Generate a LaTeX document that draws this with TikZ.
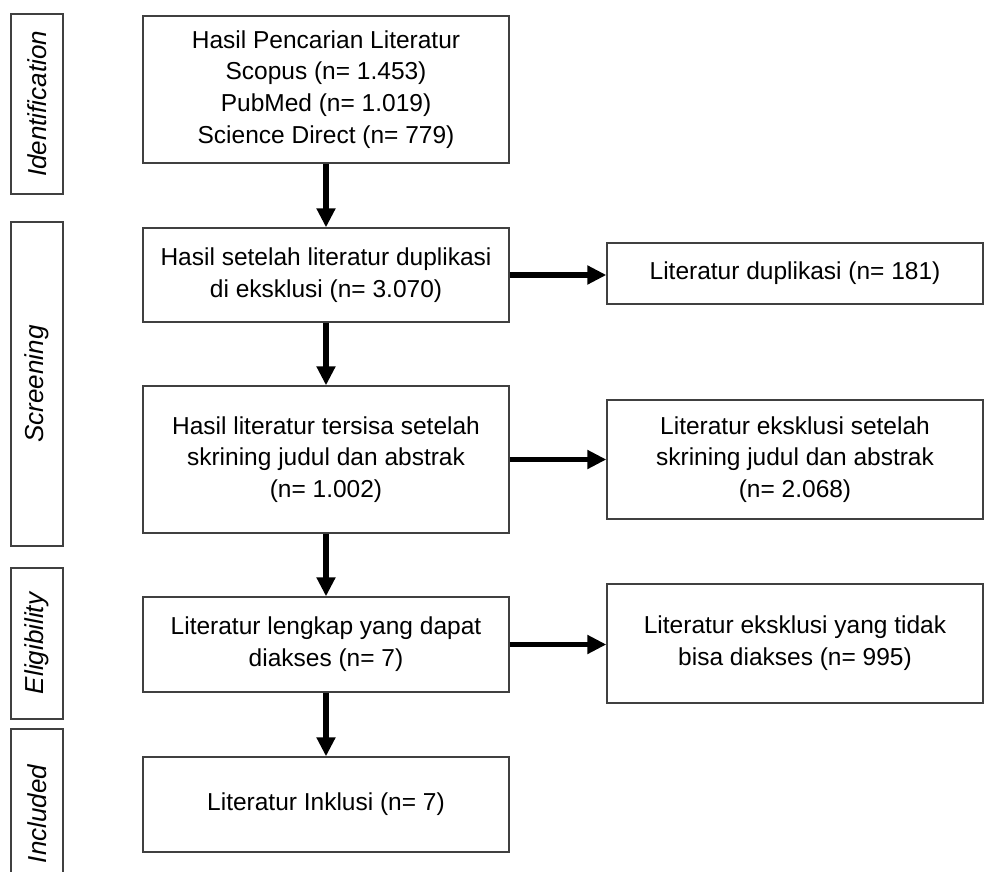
\documentclass[tikz,border=0pt]{standalone}
\usepackage{fontspec}
\setmainfont{Liberation Sans}
\usetikzlibrary{arrows.meta}

\begin{document}
\begin{tikzpicture}[x=1pt,y=-1pt]
    \tikzstyle{box}=[draw=black!75, line width=1.3pt, align=center, inner sep=0pt,
        font=\fontsize{24.5}{31.8}\selectfont]
    \tikzstyle{stage}=[draw=black!75, line width=1.3pt, rotate=90, inner sep=0pt,
        minimum height=52pt, font=\itshape\fontsize{26}{30}\selectfont]
    \tikzstyle{flow}=[line width=5.5pt, -{Triangle[length=19pt,width=18pt]}]
    \useasboundingbox (0,0) rectangle (985,872);

    % stages on the left
    \node[stage, minimum width=180pt] (ident) at (37,104) {Identification};
    \node[stage, minimum width=324pt] (screen) at (37,384) {Screening};
    \node[stage, minimum width=151pt] (elig) at (37,643.5) {Eligibility};
    \node[stage, minimum width=170pt] (incl) at (37,814) {Included};

    % main column
    \node[box, minimum width=366pt, minimum height=147pt] (search) at (326,89.5)
        {Hasil Pencarian Literatur\\Scopus (n= 1.453)\\PubMed (n= 1.019)\\Science Direct (n= 779)};
    \node[box, minimum width=366pt, minimum height=94pt] (dedup) at (326,275)
        {Hasil setelah literatur duplikasi\\di eksklusi (n= 3.070)};
    \node[box, minimum width=366pt, minimum height=147pt] (screened) at (326,459.5)
        {Hasil literatur tersisa setelah\\skrining judul dan abstrak\\(n= 1.002)};
    \node[box, minimum width=366pt, minimum height=95pt] (fulltext) at (326,644.5)
        {Literatur lengkap yang dapat\\diakses (n= 7)};
    \node[box, minimum width=366pt, minimum height=95pt] (included) at (326,804.5)
        {Literatur Inklusi (n= 7)};

    % excluded column
    \node[box, minimum width=376pt, minimum height=61pt] (dup) at (795,273.5)
        {Literatur duplikasi (n= 181)};
    \node[box, minimum width=376pt, minimum height=119pt] (exscreen) at (795,459.5)
        {Literatur eksklusi setelah\\skrining judul dan abstrak\\(n= 2.068)};
    \node[box, minimum width=376pt, minimum height=119pt] (exfull) at (795,643.5)
        {Literatur eksklusi yang tidak\\bisa diakses (n= 995)};

    \draw[flow] (search) -- (dedup);
    \draw[flow] (dedup) -- (screened);
    \draw[flow] (screened) -- (fulltext);
    \draw[flow] (fulltext) -- (included);
    \draw[flow] (dedup.east) -- (dup.west |- dedup.east);
    \draw[flow] (screened.east) -- (exscreen.west |- screened.east);
    \draw[flow] (fulltext.east) -- (exfull.west |- fulltext.east);
\end{tikzpicture}
\end{document}
